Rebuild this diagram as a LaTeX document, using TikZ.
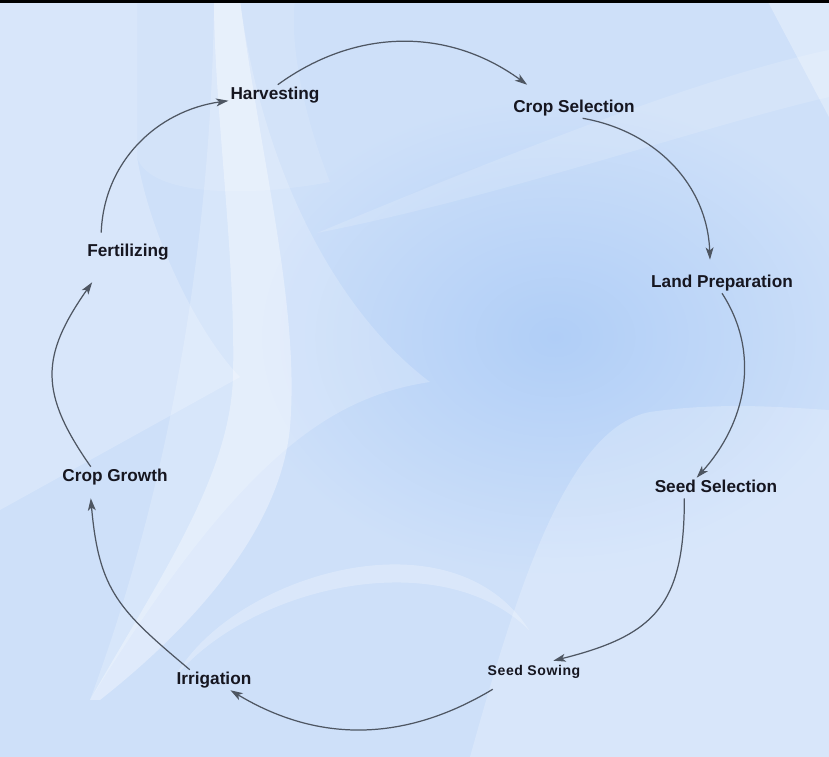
\documentclass[tikz,border=0pt]{standalone}
\usepackage{fontspec}
\setmainfont{Liberation Sans}
\usetikzlibrary{arrows.meta}
\definecolor{bgblue}{RGB}{206,224,249}
\definecolor{deepblue}{RGB}{176,206,247}
\definecolor{arrowgray}{RGB}{78,86,98}
\definecolor{labeltext}{RGB}{22,22,32}
\tikzset{stage/.style={inner sep=1pt, text height=7.3pt, text depth=2pt,
    font=\fontsize{9.8}{12}\selectfont\bfseries, text=labeltext},
  small stage/.style={stage, font=\fontsize{8}{10}\selectfont\bfseries\addfontfeature{LetterSpace=4}},
  flow/.style={draw=arrowgray, line width=0.7pt, -{Stealth[length=7pt,width=4.5pt,inset=1.8pt]}},
  glow/.style={fill=white, opacity=#1}}

\begin{document}
\begin{tikzpicture}[x=0.02cm, y=0.02cm]
  \useasboundingbox (0,0) rectangle (829,757);

  % background
  \fill[bgblue] (0,0) rectangle (829,757);
  \shade[inner color=deepblue, outer color=bgblue] (555,420) ellipse (320 and 240);
  \fill[glow=.22] (0,757) -- (137,757) -- (137,600) .. controls (150,520) and (200,420) .. (240,380)
    -- (0,247) -- cycle;
  \fill[glow=.12] (137,757) -- (137,600) .. controls (150,560) and (250,560) .. (330,575)
    .. controls (300,650) and (290,720) .. (295,757) -- cycle;
  \fill[glow=.2] (214,757) -- (240,757) .. controls (260,600) and (330,450) .. (430,375)
    .. controls (330,360) and (240,300) .. (90,57) .. controls (180,300) and (212,550) .. (214,757) -- cycle;
  \fill[glow=.35] (214,757) -- (240,757) .. controls (260,600) and (300,450) .. (290,330)
    .. controls (280,220) and (180,120) .. (100,57) -- (90,57) .. controls (160,180) and (230,280) .. (233,380)
    .. controls (236,500) and (214,650) .. (214,757) -- cycle;
  \fill[glow=.15] (317,524) .. controls (500,600) and (700,680) .. (829,707)
    -- (829,660) .. controls (700,630) and (500,560) .. (317,524) -- cycle;
  \fill[glow=.22] (470,0) .. controls (520,180) and (570,330) .. (650,345)
    .. controls (720,355) and (780,350) .. (829,347) -- (829,0) -- cycle;
  \fill[glow=.25] (175,80) .. controls (230,180) and (450,250) .. (529,127)
    .. controls (440,215) and (250,170) .. (175,80) -- cycle;
  \fill[glow=.3] (767,757) -- (829,757) -- (829,640) -- cycle;
  \fill[black] (0,754) rectangle (829,757);

  % stages
  \node[stage] (harv) at (275,662) {Harvesting};
  \node[stage] (crop) at (574,649) {Crop Selection};
  \node[stage] (land) at (722,474) {Land Preparation};
  \node[stage] (seedsel) at (716,269) {Seed Selection};
  \node[small stage] (sowing) at (534,86) {Seed Sowing};
  \node[stage] (irrig) at (214,77) {Irrigation};
  \node[stage] (growth) at (115,280) {Crop Growth};
  \node[stage] (fert) at (128,505) {Fertilizing};

  % cycle
  \draw[flow] (harv.75) to[out=36, in=144] ([shift={(16,13)}]crop.north west);
  \draw[flow] (crop.-50) to[out=-10, in=92] ([shift={(-12,13)}]land.north);
  \draw[flow] (land.south) to[out=-57, in=48] (seedsel.152);
  \draw[flow] (seedsel.198) to[out=-90, in=14, looseness=1.3] (sowing.28);
  \draw[flow] ([shift={(0,-8)}]sowing.194) to[out=-149, in=-31] (irrig.-32);
  \draw[flow] (irrig.157) to[out=140, in=-85, looseness=1.2] ([shift={(0,-11)}]growth.203);
  \draw[flow] (growth.157) to[out=125, in=-125, looseness=1.25] ([shift={(0,-20)}]fert.196);
  \draw[flow] ([shift={(0,9)}]fert.159) to[out=88, in=188] (harv.187);
\end{tikzpicture}
\end{document}
